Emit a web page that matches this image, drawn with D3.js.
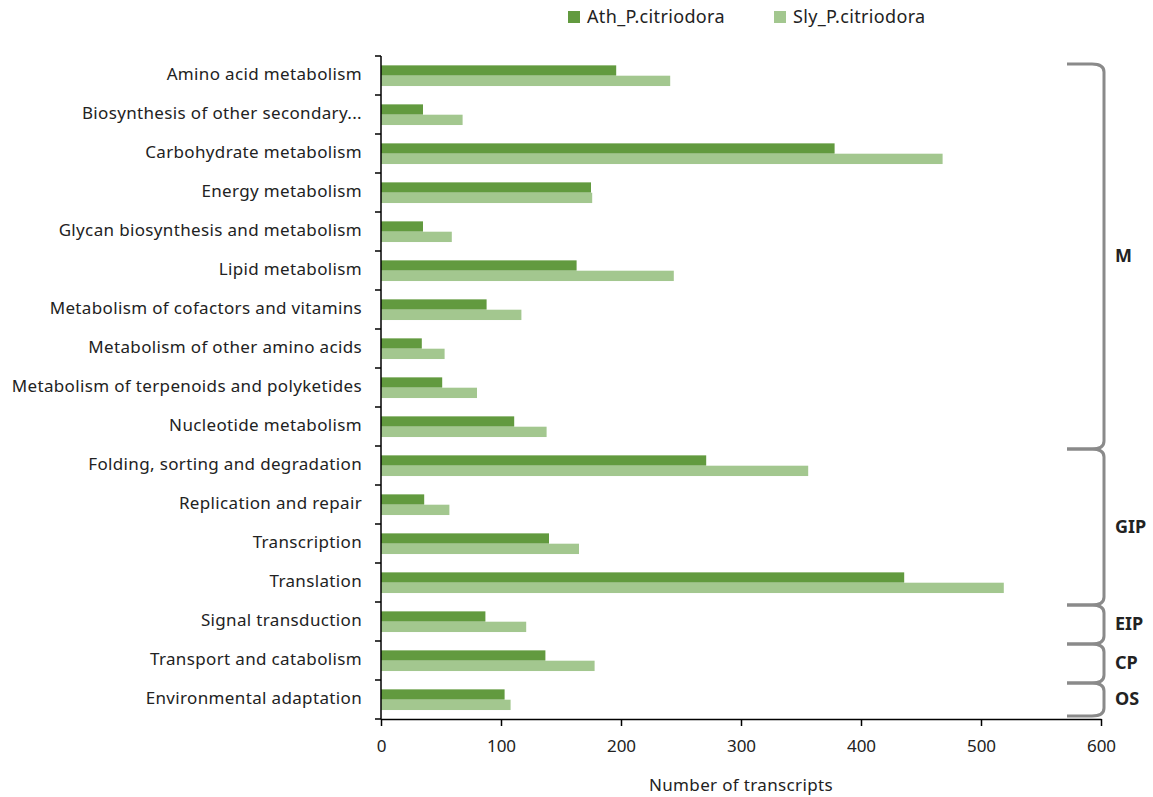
<!DOCTYPE html>
<html>
<head>
<meta charset="utf-8">
<script src="https://cdn.jsdelivr.net/npm/d3@7"></script>
<style>
  body { margin: 0; background: #fff; }
  svg text { font-family: "Noto Sans", "DejaVu Sans", sans-serif; fill: #222; }
</style>
</head>
<body>
<div id="chart"></div>
<script>
// categories, top to bottom
var categories = [
  "Amino acid metabolism",
  "Biosynthesis of other secondary...",
  "Carbohydrate metabolism",
  "Energy metabolism",
  "Glycan biosynthesis and metabolism",
  "Lipid metabolism",
  "Metabolism of cofactors and vitamins",
  "Metabolism of other amino acids",
  "Metabolism of terpenoids and polyketides",
  "Nucleotide metabolism",
  "Folding, sorting and degradation",
  "Replication and repair",
  "Transcription",
  "Translation",
  "Signal transduction",
  "Transport and catabolism",
  "Environmental adaptation"
]
var seriesNames = ["Ath_P.citriodora", "Sly_P.citriodora"]
var athValues = [196, 35, 378, 175, 35, 163, 88, 34, 51, 111, 271, 36, 140, 436, 87, 137, 103]
var slyValues = [241, 68, 468, 176, 59, 244, 117, 53, 80, 138, 356, 57, 165, 519, 121, 178, 108]
var groupNames = ["M", "GIP", "EIP", "CP", "OS"]
var groupSizes = [10, 4, 1, 1, 1]
var xTicks = [0, 100, 200, 300, 400, 500, 600]

function drawChart() {
    var W = 1153, H = 797
    var pLeft = 381, pRight = 1101, pTop = 56, pBottom = 719
    var colors = ["#629a3f", "#a3c78f"]

    var svg = d3.select("#chart").append("svg")
        .attr("width", W)
        .attr("height", H)

    var x = d3.scaleLinear().domain([0, 600]).range([pLeft, pRight])
    var y = d3.scaleBand().domain(categories).range([pTop, pBottom]).paddingInner(0).paddingOuter(0)
    var inner = d3.scaleBand().domain(seriesNames).range([y.bandwidth() * 0.24, y.bandwidth() * 0.77])

    var rows = categories.map(function (c, i) {
        return { cat: c, vals: [athValues[i], slyValues[i]] }
    })

    // bars
    svg.append("g").selectAll(".row")
        .data(rows)
        .enter()
        .append("g")
        .attr("transform", d => "translate(0," + y(d.cat) + ")")
        .selectAll("rect")
        .data(d => d.vals.map(function (v, k) { return { s: seriesNames[k], v: v, k: k } }))
        .enter()
        .append("rect")
        .attr("x", x(0))
        .attr("y", d => inner(d.s))
        .attr("width", d => x(d.v) - x(0))
        .attr("height", inner.bandwidth())
        .attr("fill", d => colors[d.k])

    // category labels
    svg.selectAll(".cat")
        .data(categories)
        .enter()
        .append("text")
        .attr("x", pLeft - 19)
        .attr("y", d => y(d) + y.bandwidth() / 2)
        .attr("text-anchor", "end")
        .attr("dominant-baseline", "middle")
        .attr("font-size", 17)
        .attr("letter-spacing", 0.35)
        .text(d => d)

    // y axis line + ticks between bands
    svg.append("line")
        .attr("x1", pLeft).attr("x2", pLeft)
        .attr("y1", pTop).attr("y2", pBottom)
        .attr("stroke", "#000").attr("stroke-width", 1.5)
    var bounds = categories.map(d => y(d)).concat([pBottom])
    svg.selectAll(".ytick")
        .data(bounds)
        .enter()
        .append("line")
        .attr("x1", pLeft - 6).attr("x2", pLeft)
        .attr("y1", d => d).attr("y2", d => d)
        .attr("stroke", "#000").attr("stroke-width", 1.5)

    // x axis
    var xAxis = svg.append("g")
        .attr("transform", "translate(0," + pBottom + ")")
        .call(d3.axisBottom(x).tickValues(xTicks).tickSize(7).tickPadding(14).tickSizeOuter(0))
    xAxis.select(".domain").attr("stroke", "#000").attr("stroke-width", 1.5)
    xAxis.selectAll(".tick line").attr("stroke", "#000").attr("stroke-width", 1.5)
    xAxis.selectAll(".tick text")
        .attr("font-size", 17)
        .attr("font-family", "Noto Sans, sans-serif")
        .attr("fill", "#222")

    svg.append("text")
        .attr("x", (pLeft + pRight) / 2)
        .attr("y", 791)
        .attr("text-anchor", "middle")
        .attr("font-size", 17)
        .attr("letter-spacing", 0.35)
        .text("Number of transcripts")

    // legend
    var legX = [568, 774]
    seriesNames.forEach(function (s, k) {
        svg.append("rect")
            .attr("x", legX[k]).attr("y", 11)
            .attr("width", 12).attr("height", 12)
            .attr("fill", colors[k])
        svg.append("text")
            .attr("x", legX[k] + 19).attr("y", 18)
            .attr("dominant-baseline", "middle")
            .attr("font-size", 18)
            .attr("letter-spacing", 0.35)
            .text(s)
    })

    // brackets on the right
    var bx0 = 1067, bx1 = 1104
    var start = 0
    groupNames.forEach(function (gname, gi) {
        var n = groupSizes[gi]
        var y0 = y(categories[start]) + (gi == 0 ? 8 : 3)
        var y1 = y(categories[start + n - 1]) + y.bandwidth() + (gi == groupNames.length - 1 ? -3 : 3)
        start += n
        var p = "M" + bx0 + "," + y0 +
            "L" + (bx1 - 12) + "," + y0 +
            "Q" + bx1 + "," + y0 + " " + bx1 + "," + (y0 + 8) +
            "L" + bx1 + "," + (y1 - 8) +
            "Q" + bx1 + "," + y1 + " " + (bx1 - 12) + "," + y1 +
            "L" + bx0 + "," + y1
        svg.append("path")
            .attr("d", p)
            .attr("fill", "none")
            .attr("stroke", "#8a8a8a")
            .attr("stroke-width", 3)
        svg.append("text")
            .attr("x", 1115)
            .attr("y", (y0 + y1) / 2 + 1)
            .attr("dominant-baseline", "middle")
            .attr("font-size", 18)
            .attr("font-weight", "bold")
            .text(gname)
    })
}
drawChart()
</script>
</body>
</html>
